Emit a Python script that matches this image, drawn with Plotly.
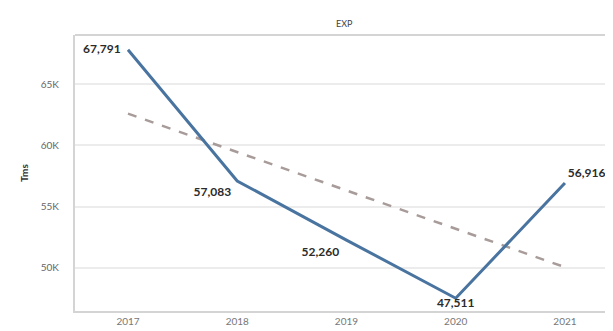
import numpy as np
import plotly.graph_objects as go

years = ["2017", "2018", "2019", "2020", "2021"]
exp_tms = [67791, 57083, 52260, 47511, 56916]
label_pos = ["middle left", "bottom left", "bottom left", "bottom center", "top right"]
ytick_vals = [50000, 55000, 60000, 65000]
ytick_text = ["50K", "55K", "60K", "65K"]

x = list(range(len(years)))
# linear trend line, as in the source tool
slope, intercept = np.polyfit(x, exp_tms, 1)
trend = [intercept + slope * v for v in x]

fig = go.Figure()
fig.add_trace(go.Scatter(x=x, y=trend, mode="lines",
                         line={"color": "#a89c9a", "width": 2.5, "dash": "dash"},
                         hoverinfo="skip"))
# invisible markers only push the labels away from the line
fig.add_trace(go.Scatter(x=x, y=exp_tms, mode="lines+markers+text",
                         line={"color": "#4a74a0", "width": 3},
                         marker={"size": [10, 8, 10, 0, 3], "color": "rgba(0,0,0,0)",
                                 "line": {"width": 0}},
                         text=[f"{v:,}" for v in exp_tms],
                         textposition=label_pos,
                         textfont={"family": "Lato", "size": 12, "color": "#2b2b2b", "weight": "bold"}))

# page body has an 8px margin, so the figure is sized to fit inside the window
fig.update_layout(
    width=605, height=323,
    margin={"l": 67, "r": 0, "t": 27, "b": 20},
    showlegend=False,
    paper_bgcolor="white", plot_bgcolor="white",
    font={"family": "Lato", "color": "#666"},
    annotations=[dict(text="EXP", x=0.5, y=1, xref="paper", yref="paper",
                      yanchor="bottom", yshift=4, showarrow=False,
                      font={"size": 9, "color": "#444"})],
    shapes=[
        dict(type="line", xref="paper", yref="paper", x0=0, x1=1, y0=1, y1=1,
             line={"color": "#d4d4d4", "width": 2}),
    ],
)
fig.update_xaxes(range=[-0.485, 4.44], tickvals=x, ticktext=years,
                 showgrid=False, zeroline=False, showline=True, automargin=False,
                 linecolor="#d4d4d4", linewidth=2, ticks="",
                 tickfont={"size": 10, "color": "#777"})
fig.update_yaxes(range=[46470, 69000], tickvals=ytick_vals, ticktext=ytick_text,
                 showgrid=True, gridcolor="#ececec", gridwidth=1.5, zeroline=False,
                 showline=True, linecolor="#d4d4d4", linewidth=2, ticks="",
                 automargin=False, ticklabelstandoff=12,
                 tickfont={"size": 10, "color": "#666"},
                 title={"text": "Tms", "font": {"size": 10, "color": "#333", "weight": "bold"},
                        "standoff": 10})

fig.write_html("out.html")
